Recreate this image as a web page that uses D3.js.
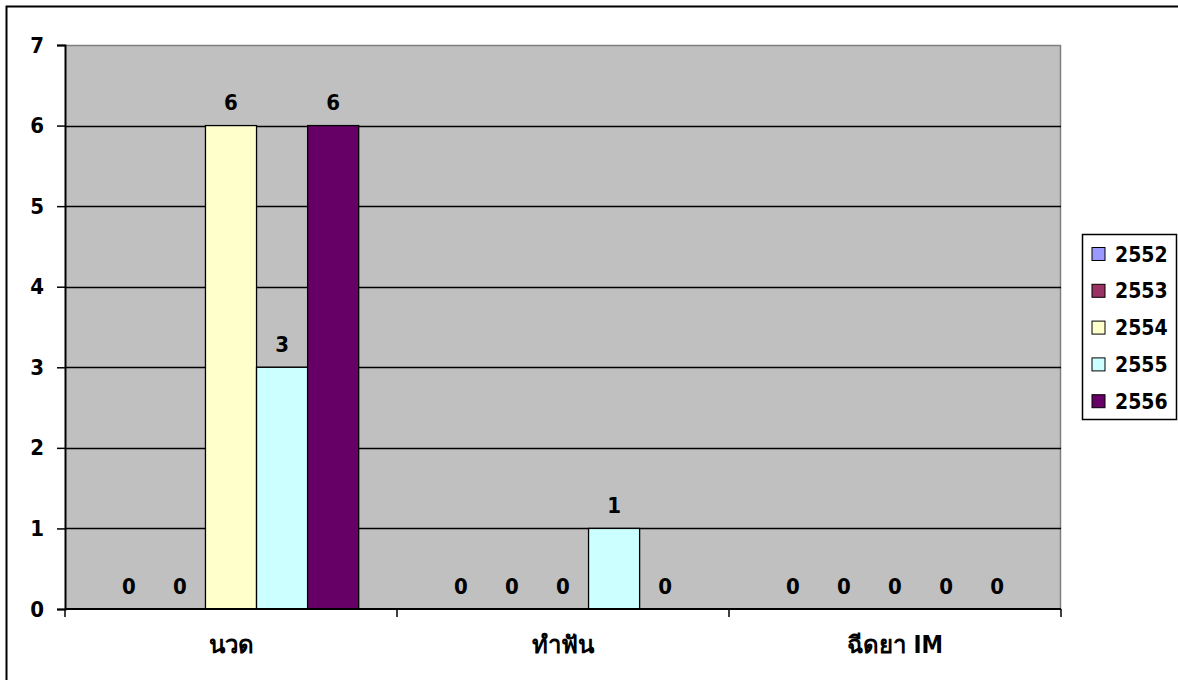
<!DOCTYPE html>
<html>
<head>
<meta charset="utf-8">
<script src="https://cdn.jsdelivr.net/npm/d3@7"></script>
<style>
  html, body { margin: 0; padding: 0; background: #fff; }
  svg { display: block; }
  text { font-family: "DejaVu Sans Condensed", "DejaVu Sans", Tahoma, sans-serif; font-stretch: condensed; font-weight: bold; fill: #000; }
</style>
</head>
<body>
<svg id="chart" width="1178" height="680"></svg>
<script>
// Service counts per category, one series per Buddhist-era year
const categories = ["นวด", "ทำฟัน", "ฉีดยา IM"];
const years = ["2552", "2553", "2554", "2555", "2556"];
const values2552 = [0, 0, 0];
const values2553 = [0, 0, 0];
const values2554 = [6, 0, 0];
const values2555 = [3, 1, 0];
const values2556 = [6, 0, 0];
const yTicks = [0, 1, 2, 3, 4, 5, 6, 7];
const seriesColors = ["#9999FF", "#993366", "#FFFFCC", "#CCFFFF", "#660066"];

const seriesValues = [values2552, values2553, values2554, values2555, values2556];

const svg = d3.select("#chart");
const plot = { left: 65, right: 1061, top: 45, bottom: 609 };

// outer chart frame (top and left edges visible)
svg.append("path")
  .attr("d", `M6.5,680 V6.5 H1178`)
  .attr("fill", "none").attr("stroke", "#000").attr("stroke-width", 2);

const x = d3.scaleBand().domain(categories).range([plot.left, plot.right]).paddingInner(0).paddingOuter(0);
const xs = d3.scaleBand().domain(years).range([0, x.bandwidth()]).paddingInner(0).paddingOuter(0.75);
const y = d3.scaleLinear().domain([0, 7]).range([plot.bottom, plot.top]);

// plot background
svg.append("rect")
  .attr("x", plot.left).attr("y", plot.top)
  .attr("width", plot.right - plot.left).attr("height", plot.bottom - plot.top)
  .attr("fill", "#C0C0C0");

// plot border on the top and right
svg.append("path")
  .attr("d", `M${plot.left},${plot.top + 0.5} H${plot.right - 0.5} V${plot.bottom}`)
  .attr("fill", "none").attr("stroke", "#808080").attr("stroke-width", 1.5);

// horizontal gridlines
svg.append("g").selectAll("line")
  .data(yTicks.filter(t => t > 0 && t < 7))
  .join("line")
  .attr("x1", plot.left).attr("x2", plot.right)
  .attr("y1", d => Math.round(y(d)) + 0.5).attr("y2", d => Math.round(y(d)) + 0.5)
  .attr("stroke", "#000").attr("stroke-width", 1.3);

// bars
const rows = [];
categories.forEach((c, ci) => {
  years.forEach((yr, si) => {
    rows.push({ cat: c, year: yr, si, value: seriesValues[si][ci] });
  });
});

svg.append("g").selectAll("rect")
  .data(rows.filter(r => r.value > 0))
  .join("rect")
  .attr("x", d => x(d.cat) + xs(d.year))
  .attr("y", d => y(d.value))
  .attr("width", xs.bandwidth())
  .attr("height", d => y(0) - y(d.value))
  .attr("fill", d => seriesColors[d.si])
  .attr("stroke", "#000").attr("stroke-width", 1.3);

// value labels
svg.append("g").selectAll("text")
  .data(rows)
  .join("text")
  .attr("x", d => x(d.cat) + xs(d.year) + xs.bandwidth() / 2)
  .attr("y", d => y(d.value) - 15.5)
  .attr("text-anchor", "middle")
  .style("font-size", "22px")
  .text(d => d.value);

// y axis
const yAxis = svg.append("g")
  .attr("transform", `translate(${plot.left},0)`)
  .call(d3.axisLeft(y).tickValues(yTicks).tickSize(8).tickPadding(13).tickFormat(d3.format("d")));
yAxis.attr("font-family", null).attr("font-size", null);
yAxis.select(".domain").attr("stroke", "#000").attr("stroke-width", 2);
yAxis.selectAll(".tick line").attr("stroke", "#000").attr("stroke-width", 1.5);
yAxis.selectAll(".tick text")
  .style("font-size", "22px").attr("fill", "#000");

// x axis: baseline, ticks between categories, centered labels
const xAxis = svg.append("g");
xAxis.append("line")
  .attr("x1", plot.left).attr("x2", plot.right)
  .attr("y1", plot.bottom).attr("y2", plot.bottom)
  .attr("stroke", "#000").attr("stroke-width", 2);
const boundaries = categories.map(c => x(c)).concat([x(categories[categories.length - 1]) + x.bandwidth()]);
xAxis.selectAll("line.tick")
  .data(boundaries)
  .join("line").attr("class", "tick")
  .attr("x1", d => d).attr("x2", d => d)
  .attr("y1", plot.bottom).attr("y2", plot.bottom + 8)
  .attr("stroke", "#000").attr("stroke-width", 1.5);
xAxis.selectAll("text")
  .data(categories)
  .join("text")
  .attr("x", d => x(d) + x.bandwidth() / 2)
  .attr("y", 653)
  .attr("text-anchor", "middle")
  .style("font-size", "24px")
  .text(d => d);

// legend
const legend = svg.append("g").attr("transform", "translate(1082,234)");
legend.append("rect")
  .attr("x", 0.5).attr("y", 0.5).attr("width", 94).attr("height", 185)
  .attr("fill", "#fff").attr("stroke", "#000").attr("stroke-width", 1.5);
const item = legend.selectAll("g.item")
  .data(years)
  .join("g").attr("class", "item")
  .attr("transform", (d, i) => `translate(0,${20 + i * 36.8})`);
item.append("rect")
  .attr("x", 10).attr("y", -6.5).attr("width", 13).attr("height", 13)
  .attr("fill", (d, i) => seriesColors[i])
  .attr("stroke", "#000").attr("stroke-width", 1);
item.append("text")
  .attr("x", 33).attr("y", 7.5)
  .style("font-size", "21px")
  .text(d => d);
</script>
</body>
</html>
